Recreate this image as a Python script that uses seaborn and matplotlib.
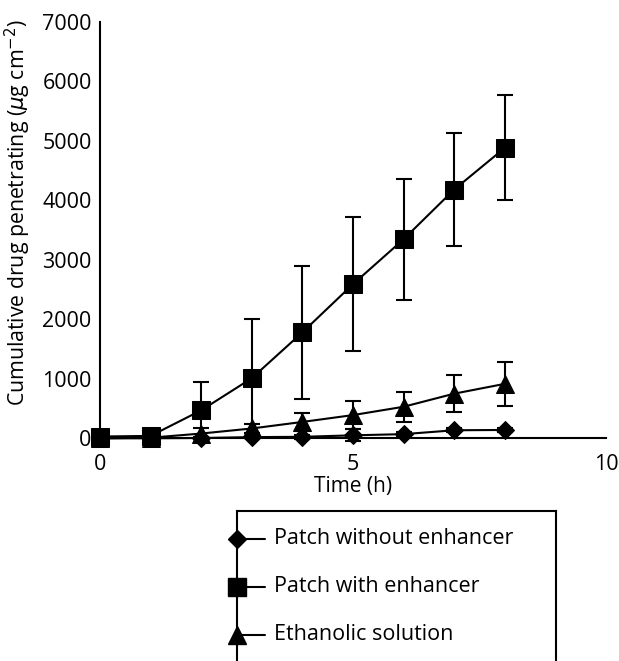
import matplotlib
matplotlib.use("Agg")
import matplotlib.pyplot as plt
import seaborn as sns
import pandas as pd
import numpy as np

# ---- data ----
time_h = [0, 1, 2, 3, 4, 5, 6, 7, 8]
without_enh = [0, 0, 5, 20, 25, 50, 70, 135, 140]
without_err = [0, 0, 20, 20, 30, 100, 30, 30, 30]
with_enh = [30, 40, 470, 1010, 1780, 2590, 3345, 4180, 4880]
with_err = [0, 0, 480, 1000, 1120, 1130, 1020, 950, 880]
ethanolic = [0, 10, 80, 165, 275, 390, 530, 750, 915]
eth_err = [0, 0, 85, 70, 155, 230, 250, 310, 370]

series_names = ["Patch without enhancer", "Patch with enhancer", "Ethanolic solution"]
x_ticks = [0, 5, 10]
y_ticks = [0, 1000, 2000, 3000, 4000, 5000, 6000, 7000]

sns.set_style("white")
plt.rcParams["font.family"] = ["Open Sans", "DejaVu Sans"]
plt.rcParams["mathtext.fontset"] = "dejavusans"
plt.rcParams["text.color"] = "black"
plt.rcParams["axes.labelcolor"] = "black"
plt.rcParams["xtick.color"] = "black"
plt.rcParams["ytick.color"] = "black"

fig = plt.figure(figsize=(6.19, 6.61), dpi=100)
L, R, T, B = 100, 606, 21.7, 438.3
ax = fig.add_axes([L / 619, (661 - B) / 661, (R - L) / 619, (B - T) / 661])

df = pd.DataFrame({
    "t": time_h * 3,
    "v": without_enh + ethanolic + with_enh,
    "s": [series_names[0]] * 9 + [series_names[2]] * 9 + [series_names[1]] * 9,
})
errs = {series_names[0]: without_err, series_names[1]: with_err, series_names[2]: eth_err}
markers = {series_names[0]: ("D", 9.5), series_names[1]: ("s", 13), series_names[2]: ("^", 13)}

for i, name in enumerate([series_names[0], series_names[2], series_names[1]]):
    sub = df[df["s"] == name]
    ax.errorbar(sub["t"], sub["v"], yerr=errs[name], fmt="none", ecolor="black",
                elinewidth=1.5, capsize=6, capthick=1.5, clip_on=False, zorder=2 + i)
    m, ms = markers[name]
    sns.lineplot(data=sub, x="t", y="v", ax=ax, color="black", linewidth=1.5,
                 marker=m, markersize=ms, markeredgecolor="black", markerfacecolor="black",
                 clip_on=False, zorder=3 + i, legend=False)

ax.set_xlim(0, 10)
ax.set_ylim(0, 7000)
ax.set_xticks(x_ticks)
ax.set_yticks(y_ticks)
ax.tick_params(axis="y", direction="out", length=5, width=1.5, labelsize=15.5, pad=1)
ax.tick_params(axis="x", direction="out", length=8, width=1.5, labelsize=15.5, pad=3)
for s in ["top", "right"]:
    ax.spines[s].set_visible(False)
for s in ["left", "bottom"]:
    ax.spines[s].set_linewidth(1.5)
    ax.spines[s].set_color("black")
ax.set_xlabel("Time (h)", fontsize=15, labelpad=1)
ax.set_ylabel(r"Cumulative drug penetrating ($\mu$g cm$^{-2}$)", fontsize=15.3)
ax.yaxis.set_label_coords(-0.133, 0.542)

# ---- legend box ----
lax = fig.add_axes([237 / 619, 0, (556 - 237) / 619, (661 - 511) / 661])
lax.set_xlim(0, 319)
lax.set_ylim(150, 0)
lax.set_xticks([])
lax.set_yticks([])
lax.spines["bottom"].set_visible(False)
for s in ["left", "top", "right"]:
    lax.spines[s].set_linewidth(1.5)
    lax.spines[s].set_color("black")
rows = [28, 76, 124]
for name, yy in zip(series_names, rows):
    m, ms = markers[name]
    lax.plot([-2, 28], [yy, yy], color="black", linewidth=1.5, clip_on=False)
    lax.plot([0], [yy], marker=m, markersize=ms, color="black", clip_on=False, linestyle="none")
    lax.text(37, yy, name, fontsize=15.5, va="center", ha="left")

fig.savefig("out.png", dpi=100)
